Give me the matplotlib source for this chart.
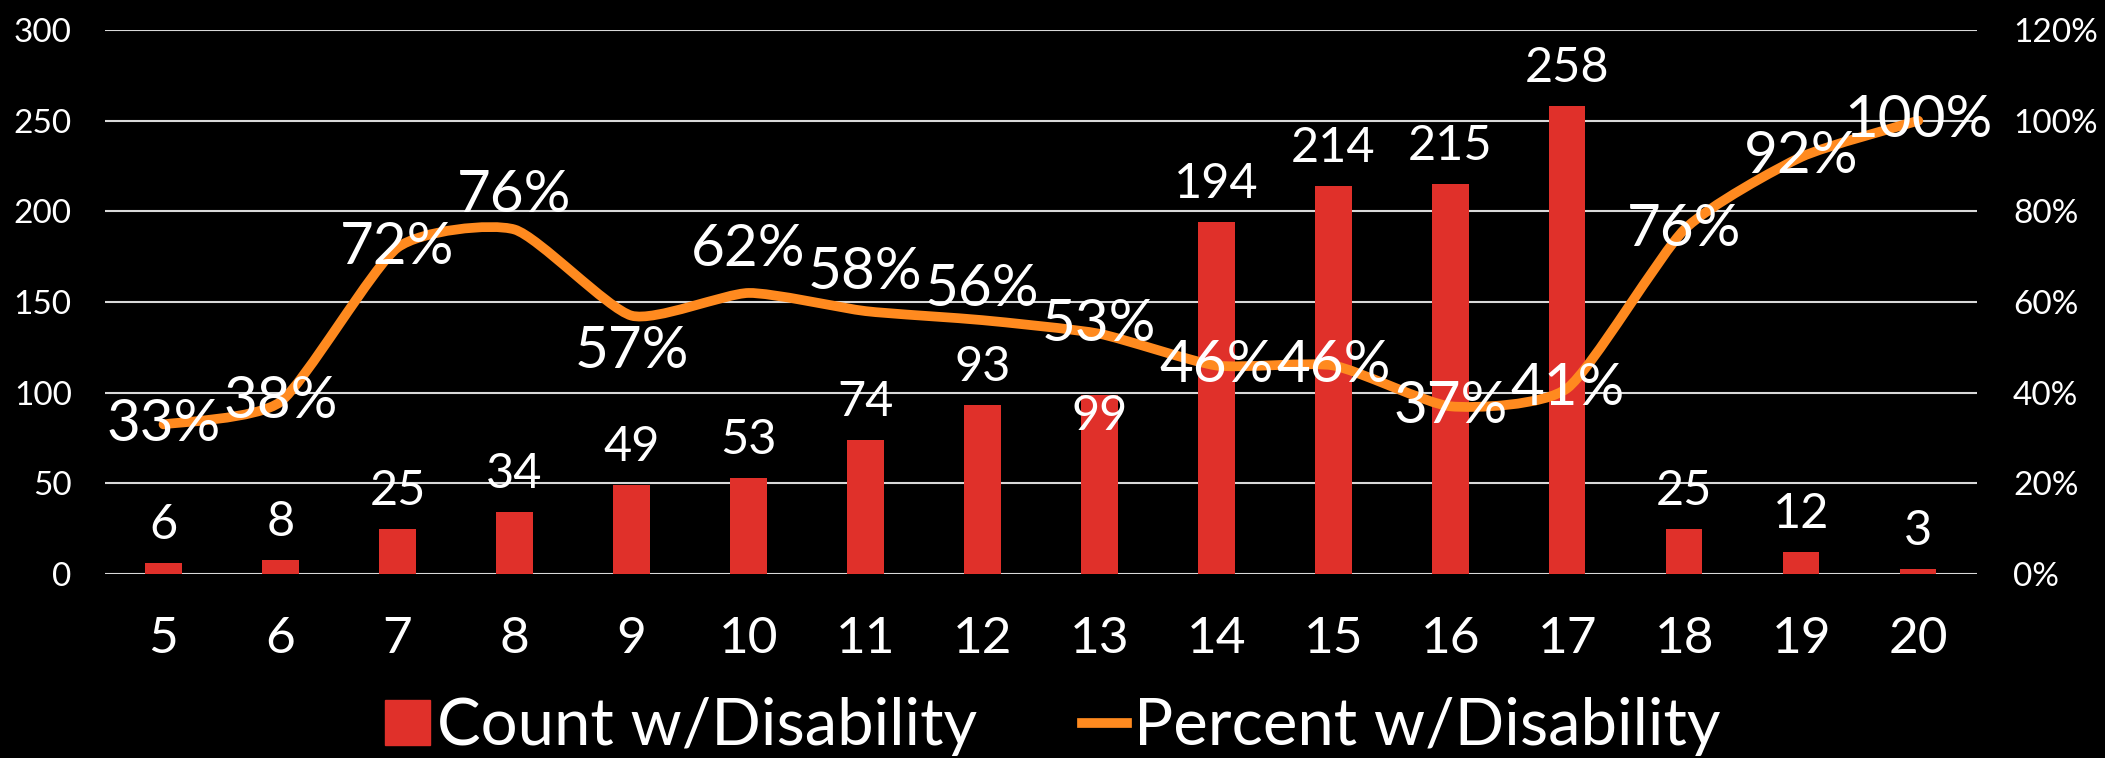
import matplotlib.pyplot as plt
from matplotlib.path import Path
from matplotlib.patches import PathPatch, Patch
from matplotlib.lines import Line2D
import numpy as np

ages = ["5", "6", "7", "8", "9", "10", "11", "12", "13", "14", "15", "16", "17", "18", "19", "20"]
counts = [6, 8, 25, 34, 49, 53, 74, 93, 99, 194, 214, 215, 258, 25, 12, 3]
percents = [33, 38, 72, 76, 57, 62, 58, 56, 53, 46, 46, 37, 41, 76, 92, 100]

plt.rcParams['font.family'] = ['Lato', 'DejaVu Sans']

RED = "#e0302a"
ORANGE = "#ff8a1f"

fig = plt.figure(figsize=(21.05, 7.58), dpi=100, facecolor="black")
ax = fig.add_axes([0.0499, 0.2427, 0.8892, 0.7177])
ax.set_facecolor("black")
ax2 = ax.twinx()

x = np.arange(len(ages))
ax.bar(x, counts, width=0.31, color=RED, zorder=2)
ax.set_xlim(-0.5, len(ages) - 0.5)
ax.set_ylim(0, 300)
ax.set_yticks(range(0, 301, 50))
ax.grid(True, axis="y", color="#d9d9d9", linewidth=1.5, zorder=0)
ax.set_axisbelow(True)
ax.set_xticks(x)
ax.set_xticklabels(ages)
ax.tick_params(axis="x", length=0, pad=30, labelsize=37, colors="white")
ax.tick_params(axis="y", length=0, pad=24, labelsize=24, colors="white")
for s in ax.spines.values():
    s.set_visible(False)
for s in ax2.spines.values():
    s.set_visible(False)

ax2.set_ylim(0, 120)
ax2.set_yticks(range(0, 121, 20))
ax2.set_yticklabels([f"{v}%" for v in range(0, 121, 20)])
ax2.tick_params(axis="y", length=0, pad=26, labelsize=24, colors="white")

# smoothed line: cubic bezier through the points, gentle tangents
pts = np.column_stack([x, percents]).astype(float)
ext = np.vstack([pts[0], pts, pts[-1]])
verts = [tuple(pts[0])]
codes = [Path.MOVETO]
for i in range(len(pts) - 1):
    p0, p1, p2, p3 = ext[i], ext[i + 1], ext[i + 2], ext[i + 3]
    c1 = p1 + (p2 - p0) / 10
    c2 = p2 - (p3 - p1) / 10
    verts += [tuple(c1), tuple(c2), tuple(p2)]
    codes += [Path.CURVE4] * 3
ax2.add_patch(PathPatch(Path(verts, codes), facecolor="none", edgecolor=ORANGE,
                        linewidth=7, capstyle="round", joinstyle="round", zorder=3))

# bar labels
bar_off = [38] * len(counts)
bar_off[8] = -21
for xi, c, off in zip(x, counts, bar_off):
    ax.annotate(str(c), (xi, c), xytext=(0, off), textcoords="offset pixels",
                ha="center", va="center", color="white", fontsize=35, zorder=5)

# percent labels
pct_off = [0] * len(percents)
pct_off[3] = 34
pct_off[4] = -36
pct_off[5] = 43
pct_off[6] = 39
pct_off[7] = 31
pct_off[8] = 9
for xi, p, off in zip(x, percents, pct_off):
    ax2.annotate(f"{p}%", (xi, p), xytext=(0, off), textcoords="offset pixels",
                 ha="center", va="center", color="white", fontsize=42, zorder=6)

handles = [Patch(color=RED), Line2D([0], [0], color=ORANGE, linewidth=7)]
fig.legend(handles, ["Count w/Disability", "Percent w/Disability"],
           loc="center", bbox_to_anchor=(0.5, 0.041), ncol=2, frameon=False,
           fontsize=47, labelcolor="white", handlelength=0.7, handletextpad=0.1,
           columnspacing=1.6)

fig.savefig("out.png", dpi=100, facecolor="black")
